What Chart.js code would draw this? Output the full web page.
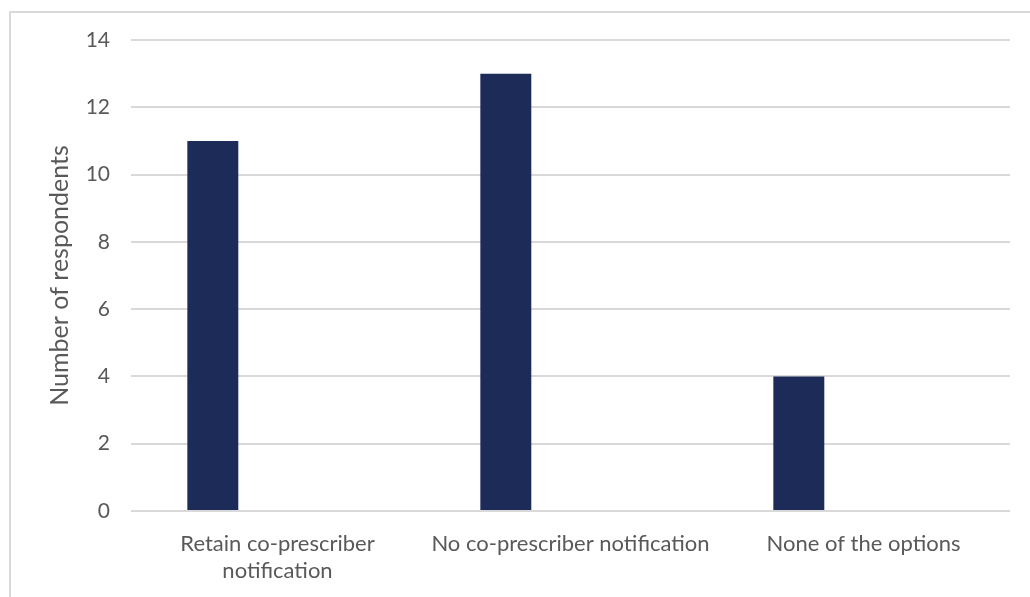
<!DOCTYPE html>
<html>
<head>
<meta charset="utf-8">
<script src="https://cdn.jsdelivr.net/npm/chart.js@4"></script>
<style>
  html, body { margin: 0; padding: 0; background: #ffffff; }
  #wrap { position: relative; width: 1030px; height: 597px; overflow: hidden; }
  #frame { position: absolute; left: 9px; top: 11px; width: 1040px; height: 600px;
           border-top: 2px solid #d9d9d9; border-left: 2px solid #d9d9d9; box-sizing: border-box; pointer-events: none; }
  canvas { position: absolute; left: 0; top: 0; }
</style>
</head>
<body>
<div id="wrap">
  <canvas id="chart" width="1030" height="597"></canvas>
  <div id="frame"></div>
</div>
<script>
// Survey responses: preferred handling of co-prescriber notification
const categories = [
  ['Retain co-prescriber', 'notification'],
  'No co-prescriber notification',
  'None of the options'
];
const respondents = [11, 13, 4];
// second (empty) series slot kept in each group
const emptySeries = [null, null, null];
const yTicks = [0, 2, 4, 6, 8, 10, 12, 14];

const textGrey = '#595959';
const fontFamily = 'Lato, "Open Sans", sans-serif';

new Chart(document.getElementById('chart'), {
  type: 'bar',
  data: {
    labels: categories,
    datasets: [
      { label: 'Respondents', data: respondents, backgroundColor: '#1d2b58',
        categoryPercentage: 0.883, barPercentage: 0.394 },
      { label: '', data: emptySeries, backgroundColor: '#1d2b58',
        categoryPercentage: 0.883, barPercentage: 0.394 }
    ]
  },
  options: {
    responsive: false,
    animation: false,
    layout: { padding: { top: 40, right: 20, bottom: 0, left: 0 } },
    plugins: { legend: { display: false }, tooltip: { enabled: false } },
    scales: {
      x: {
        grid: { display: false, drawTicks: false },
        border: { display: false },
        ticks: { color: textGrey, font: { family: fontFamily, size: 22, lineHeight: 1.23 },
                 padding: 19, maxRotation: 0, autoSkip: false },
        afterFit: s => { s.height = 86; }
      },
      y: {
        min: 0, max: 14,
        afterBuildTicks: s => { s.ticks = yTicks.map(v => ({ value: v })); },
        grid: { color: '#d9d9d9', lineWidth: 2, drawTicks: false },
        border: { display: false },
        ticks: { color: textGrey, font: { family: fontFamily, size: 21 }, padding: 21 },
        title: { display: true, text: 'Number of respondents', color: textGrey,
                 font: { family: fontFamily, size: 25 }, padding: { top: 45, bottom: 0 } },
        afterFit: s => { s.width = 131; }
      }
    }
  }
});
</script>
</body>
</html>
